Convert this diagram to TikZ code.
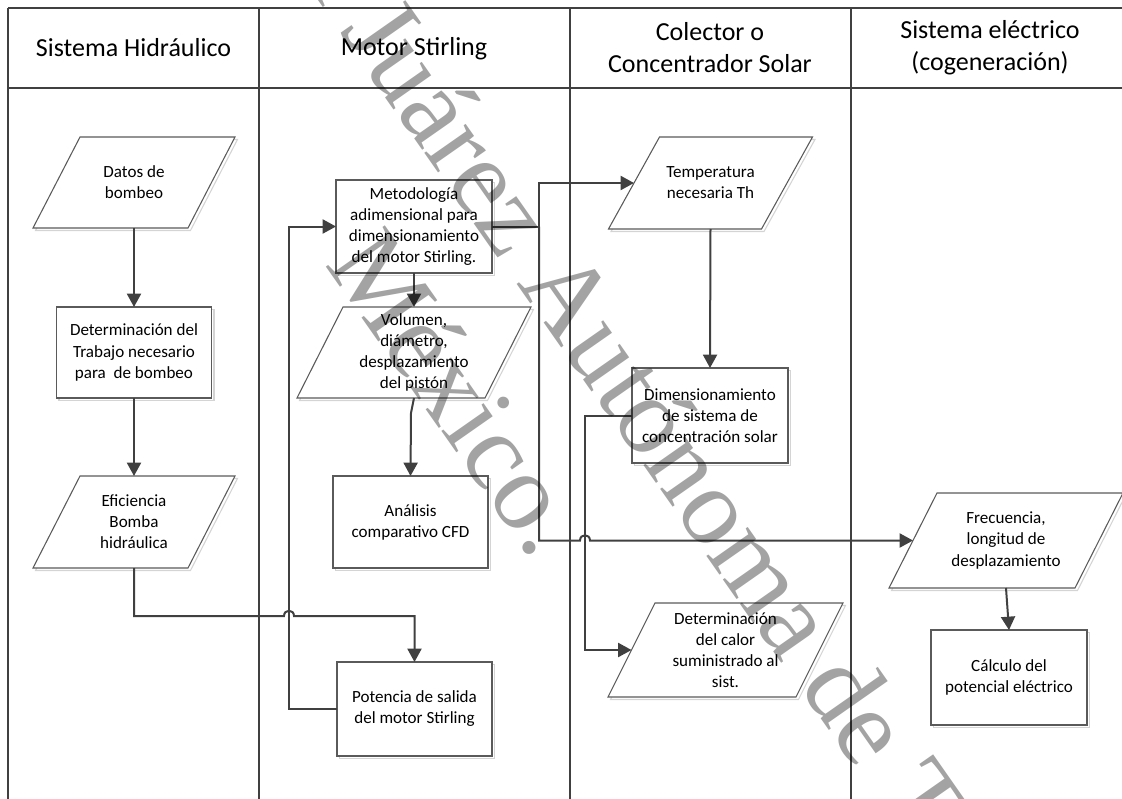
\documentclass[tikz,border=0pt]{standalone}
\usepackage{fontspec}
\setmainfont{Carlito}
\newfontfamily\wmfont{Liberation Serif}
\usetikzlibrary{arrows.meta,calc}
\pgfdeclarelayer{background}
\pgfsetlayers{background,main}
\definecolor{linec}{HTML}{404040}
\definecolor{boxc}{HTML}{5A5A5A}
\definecolor{shadc}{HTML}{D4D4D4}
\tikzset{
  lane/.style={draw=linec, line width=1.5pt},
  conn/.style={draw=linec, line width=1.5pt, line join=miter},
  arr/.style={conn, -{Triangle[length=10pt,width=10.5pt]}},
  txt/.style={font=\fontsize{12.8}{15.8}\selectfont, align=center, inner sep=0pt, outer sep=0pt},
  head/.style={font=\fontsize{19.5}{24}\selectfont, align=center, inner sep=0pt},
  boxline/.style={draw=boxc, line width=0.8pt, fill=white},
  boxshadow/.style={draw=shadc, line width=0.8pt, fill=white},
  wm/.style={font=\wmfont\fontsize{82.5}{99}\selectfont, text=black, text opacity=0.36, inner sep=0pt, rotate=-55, anchor=base west}
}
\newcommand{\ioshape}[2]{%
  \path (#1.north west) ++(#2/2,0) coordinate (tl)
        (#1.north east) ++(#2/2,0) coordinate (tr)
        (#1.south east) ++(-#2/2,0) coordinate (br)
        (#1.south west) ++(-#2/2,0) coordinate (bl);
  \draw[boxshadow] ($(tl)+(2.5,2.5)$) -- ($(tr)+(2.5,2.5)$) -- ($(br)+(2.5,2.5)$) -- ($(bl)+(2.5,2.5)$) -- cycle;
  \draw[boxline] (tl) -- (tr) -- (br) -- (bl) -- cycle;
}
\newcommand{\procshape}[1]{%
  \draw[boxshadow] ($(#1.north west)+(2.5,2.5)$) rectangle ($(#1.south east)+(2.5,2.5)$);
  \draw[boxline] (#1.north west) rectangle (#1.south east);
}
\begin{document}
\begin{tikzpicture}[x=0.75pt,y=-0.75pt]
\useasboundingbox (0,0) rectangle (1122,799);
\clip (0,0) rectangle (1122,799);

% nodes
\node[txt, minimum width=155*0.75pt, minimum height=91*0.75pt] (datos) at (134,182.5) {Datos de\\bombeo};
\node[txt, minimum width=155*0.75pt, minimum height=91*0.75pt] (trabajo) at (134,352.5) {Determinación del\\Trabajo necesario\\para \ de bombeo};
\node[txt, minimum width=155*0.75pt, minimum height=92*0.75pt] (eficiencia) at (134,522) {Eficiencia\\Bomba\\hidráulica};

\node[txt, minimum width=156*0.75pt, minimum height=93*0.75pt] (metodologia) at (414,226.5) {Metodología\\adimensional para\\dimensionamiento\\del motor Stirling.};
\node[txt, minimum width=188*0.75pt, minimum height=91*0.75pt] (volumen) at (414,352.5) {Volumen,\\diámetro,\\desplazamiento\\del pistón};
\node[txt, minimum width=155*0.75pt, minimum height=92*0.75pt] (analisis) at (410.5,522) {Análisis\\comparativo CFD};
\node[txt, minimum width=155*0.75pt, minimum height=94*0.75pt] (potencia) at (414.5,709) {Potencia de salida\\del motor Stirling};

\node[txt, minimum width=153*0.75pt, minimum height=92*0.75pt] (temperatura) at (710.5,183) {Temperatura\\necesaria Th};
\node[txt, minimum width=156*0.75pt, minimum height=95*0.75pt] (dimensionamiento) at (710,415.5) {Dimensionamiento\\de sistema de\\concentración solar};
\node[txt, minimum width=188*0.75pt, minimum height=94*0.75pt] (determinacion) at (725.5,650) {Determinación\\del calor\\suministrado al\\sist.};

\node[txt, minimum width=186*0.75pt, minimum height=95*0.75pt] (frecuencia) at (1006,540.5) {Frecuencia,\\longitud de\\desplazamiento};
\node[txt, minimum width=156*0.75pt, minimum height=95*0.75pt] (calculo) at (1009,677.5) {Cálculo del\\potencial eléctrico};

% headers
\node[head] (h1) at (133.5,48) {Sistema Hidráulico};
\node[head] (h2) at (414,49) {Motor Stirling};
\node[head] (h3) at (710,48) {Colector o\\Concentrador Solar};
\node[head] (h4) at (990,48) {Sistema eléctrico\\(cogeneración)};

\begin{pgfonlayer}{background}
  % swimlanes
  \draw[lane] (8,8) -- (1140,8);
  \draw[lane] (8,88) -- (1140,88);
  \draw[lane] (8,8) -- (8,810);
  \draw[lane] (259,8) -- (259,810);
  \draw[lane] (570,8) -- (570,810);
  \draw[lane] (851,8) -- (851,810);
  % shapes
  \ioshape{datos}{47}
  \procshape{trabajo}
  \ioshape{eficiencia}{47}
  \procshape{metodologia}
  \ioshape{volumen}{46}
  \procshape{analisis}
  \procshape{potencia}
  \ioshape{temperatura}{51}
  \procshape{dimensionamiento}
  \ioshape{determinacion}{47}
  \ioshape{frecuencia}{48}
  \procshape{calculo}
\end{pgfonlayer}

% connectors
\coordinate (lp) at ($(metodologia.west)+(-47,0)$);
\coordinate (eb) at ($(eficiencia.south)+(0,48)$);
\coordinate (sp) at ($(metodologia.east)+(47,0)$);
\coordinate (dp) at ($(dimensionamiento.west)+(-47,0)$);

\draw[arr] (datos) -- (trabajo);
\draw[arr] (trabajo) -- (eficiencia);
\draw[arr] (eficiencia.south) -- (eb) -- ($(eb -| lp)+(-5,0)$)
  .. controls +(0,-7) and +(0,-7) .. ($(eb -| lp)+(5,0)$) -| (potencia.north);
\draw[arr] (potencia.west) -| (lp) -- (metodologia.west);
\draw[arr] (metodologia) -- (volumen);
\draw[arr] (volumen.south) -- ++(-3,15) -- (analisis.north);
\draw[conn] (metodologia.east) -- (sp);
\draw[arr] (sp) |- (temperatura.west);
\draw[arr] (sp) -- (sp |- frecuencia.west) -- ($(dp |- frecuencia.west)+(-5,0)$)
  .. controls +(0,-7) and +(0,-7) .. ($(dp |- frecuencia.west)+(5,0)$) -- (frecuencia.west);
\draw[arr] (temperatura.south) -- (dimensionamiento.north);
\draw[arr] (dimensionamiento.west) -- (dp) |- (determinacion.west);
\draw[arr] (frecuencia.south) -- (calculo.north);

% watermark
\node[wm] (wm1) at (516.1,283.6) {\llap{Universidad Juárez\ }Autónoma de Tabasco.};
\node[wm] (wm2) at (324.2,263.9) {México.};
\end{tikzpicture}
\end{document}
